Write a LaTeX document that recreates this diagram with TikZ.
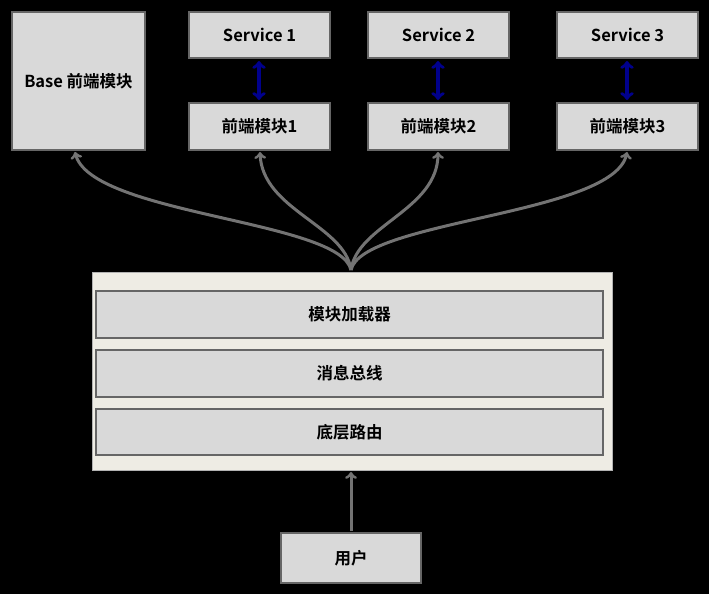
\documentclass[tikz,border=0pt]{standalone}
\usepackage{fontspec}
\setmainfont{Noto Sans CJK SC}[BoldFont={* Bold}]
\definecolor{panel}{HTML}{EEECE4}
\begin{document}
\begin{tikzpicture}[x=1pt,y=-1pt,font=\fontsize{16.5}{19}\selectfont\bfseries,
  box/.style={draw=black!60,line width=2.5pt,fill=black!15},
  link/.style={->,draw=black!55,line width=3pt},
  svc/.style={<->,draw=blue!55!black,line width=3.5pt}]
  % background
  \fill[black] (0,0) rectangle (709,594);
  \useasboundingbox (0,0) rectangle (709,594);

  % top boxes
  \draw[box] (12,12) rectangle (145,150) node[midway] (base) {Base 前端模块};
  \foreach \i/\x in {1/189,2/368,3/557}{
    \draw[box] (\x,12) rectangle (\x+141,58) node[midway] (s\i) {Service \i};
    \draw[box] (\x,103) rectangle (\x+141,150) node[midway] (m\i) {前端模块\i};
    \draw[svc] (\x+70,61) -- (\x+70,100);
  }

  % platform
  \draw[fill=panel,draw=black!30,line width=1pt] (92,272) rectangle (612,470);
  \draw[box] (96,291) rectangle (603,338) node[midway] (load) {模块加载器};
  \draw[box] (96,350) rectangle (603,397) node[midway] (bus) {消息总线};
  \draw[box] (96,409) rectangle (603,455) node[midway] (route) {底层路由};
  \coordinate (top) at (351,270);
  \coordinate (bot) at (351,472);

  % user
  \draw[box] (281,533) rectangle (421,583) node[midway] (user) {用户};
  \draw[link] (351,531) -- (bot);

  % fan-out
  \draw[link] (top) .. controls (340,220) and (90,215) .. (75,152);
  \draw[link] (top) .. controls (345,225) and (262,210) .. (260,152);
  \draw[link] (top) .. controls (357,225) and (438,210) .. (438,152);
  \draw[link] (top) .. controls (362,220) and (615,215) .. (627,152);
\end{tikzpicture}
\end{document}
